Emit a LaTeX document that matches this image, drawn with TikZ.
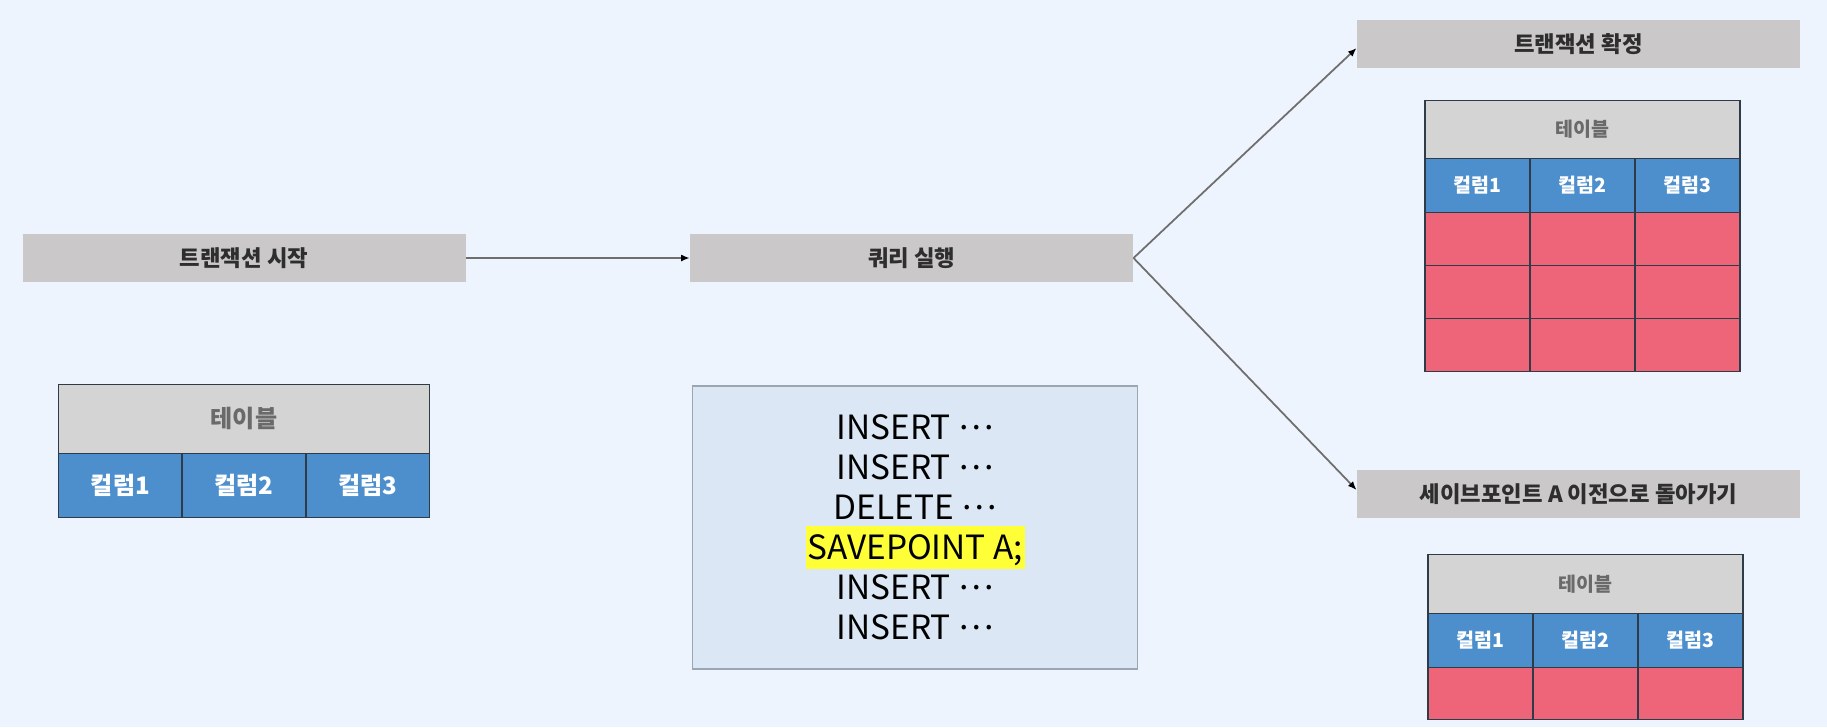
\documentclass[tikz,border=0pt]{standalone}
\usepackage{fontspec}
\setmainfont{Noto Sans CJK KR}
\usepackage{tikz}
\usetikzlibrary{arrows.meta, positioning}

\definecolor{bgblue}{HTML}{EEF4FE}
\definecolor{boxgray}{HTML}{CAC8C9}
\definecolor{labelgray}{HTML}{2E2E2E}
\definecolor{headgray}{HTML}{D4D4D4}
\definecolor{headtext}{HTML}{6A6A6A}
\definecolor{colblue}{HTML}{4D8FCD}
\definecolor{rowred}{HTML}{EE6579}
\definecolor{linedark}{HTML}{2F3B47}
\definecolor{sqlblue}{HTML}{DBE7F4}
\definecolor{sqlborder}{HTML}{9CA6B2}
\definecolor{hlyellow}{HTML}{FFFF38}
\definecolor{arrowgray}{HTML}{6E6E6E}

\newcommand{\steplabel}{\fontsize{12.7pt}{15pt}\selectfont\bfseries}
\newcommand{\bigtab}{\fontsize{13.7pt}{16pt}\selectfont\bfseries}
\newcommand{\smalltab}{\fontsize{11.1pt}{13pt}\selectfont\bfseries}
\newcommand{\sqlfont}{\fontsize{19pt}{22.76pt}\selectfont}
\newcommand{\midots}{\raisebox{0.3em}{…}}

\begin{document}
\begin{tikzpicture}[node distance=1cm, auto,
    stepbox/.style={fill=boxgray, minimum width=8.86cm, minimum height=0.96cm, text=labelgray, font=\steplabel},
    tabhead/.style={draw=linedark, line width=0.8pt, outer sep=0pt, fill=headgray, text=headtext},
    tabcol/.style={draw=linedark, line width=0.8pt, outer sep=0pt, fill=colblue, text=white},
    tabrow/.style={draw=linedark, line width=0.8pt, outer sep=0pt, fill=rowred},
    bigcol/.style={tabcol, minimum width=2.473cm, minimum height=1.28cm, font=\bigtab},
    smallcol/.style={tabcol, minimum width=2.1cm, minimum height=1.08cm, font=\smalltab},
    smallrow/.style={tabrow, minimum width=2.1cm, minimum height=1.06cm},
    arrow/.style={draw=arrowgray, line width=1pt, -{Latex[length=5pt, width=4pt, black]}}]

    % Background
    \useasboundingbox (0,0) rectangle (36.54,-14.54);
    \fill[bgblue] (0,0) rectangle (36.54,-14.54);

    % Steps
    \node (start) [stepbox] at (4.88,-5.16) {트랜잭션 시작};
    \node (run) [stepbox, right=4.48cm of start] {쿼리 실행};
    \node (commit) [stepbox] at (31.57,-0.88) {트랜잭션 확정};
    \node (back) [stepbox] at (31.57,-9.88) {세이브포인트 A 이전으로 돌아가기};

    % Queries
    \node (sql) [below=2.06cm of run, xshift=0.07cm, draw=sqlborder, line width=0.8pt, fill=sqlblue,
        minimum width=8.9cm, minimum height=5.66cm, align=center, font=\sqlfont]
        {INSERT \midots\\INSERT \midots\\DELETE \midots\\%
         \smash{\setlength{\fboxsep}{0pt}\colorbox{hlyellow}{\rule[-5pt]{0pt}{24pt}\hspace{1pt}SAVEPOINT A;\hspace{1pt}}}\\%
         INSERT \midots\\INSERT \midots};

    % Table before the transaction
    \node (L) [tabhead, below=2.04cm of start, minimum width=7.42cm, minimum height=1.38cm, font=\bigtab] {테이블};
    \node (L2) [bigcol, below=0pt of L] {컬럼2};
    \node (L1) [bigcol, left=0pt of L2] {컬럼1};
    \node (L3) [bigcol, right=0pt of L2] {컬럼3};

    % Table after commit
    \node (T) [tabhead, below=0.64cm of commit, xshift=0.08cm, minimum width=6.3cm, minimum height=1.16cm, font=\smalltab] {테이블};
    \node (T2) [smallcol, below=0pt of T] {컬럼2};
    \node (T1) [smallcol, left=0pt of T2] {컬럼1};
    \node (T3) [smallcol, right=0pt of T2] {컬럼3};
    \foreach \r/\q in {Ta/T, Tb/Ta, Tc/Tb} {
        \node (\r2) [smallrow, below=0pt of \q2] {};
        \node (\r1) [smallrow, left=0pt of \r2] {};
        \node (\r3) [smallrow, right=0pt of \r2] {};
    }

    % Table after rollback to A
    \node (R) [tabhead, below=0.72cm of back, xshift=0.14cm, minimum width=6.3cm, minimum height=1.18cm, font=\smalltab] {테이블};
    \node (R2) [smallcol, below=0pt of R] {컬럼2};
    \node (R1) [smallcol, left=0pt of R2] {컬럼1};
    \node (R3) [smallcol, right=0pt of R2] {컬럼3};
    \node (Ra2) [smallrow, below=0pt of R2, minimum height=1.04cm] {};
    \node (Ra1) [smallrow, left=0pt of Ra2, minimum height=1.04cm] {};
    \node (Ra3) [smallrow, right=0pt of Ra2, minimum height=1.04cm] {};

    % Arrows
    \draw[arrow] (start) -- (run);
    \draw[arrow] (run.east) -- ([yshift=-0.08cm]commit.west);
    \draw[arrow] (run.east) -- ([yshift=0.08cm]back.west);
\end{tikzpicture}
\end{document}
